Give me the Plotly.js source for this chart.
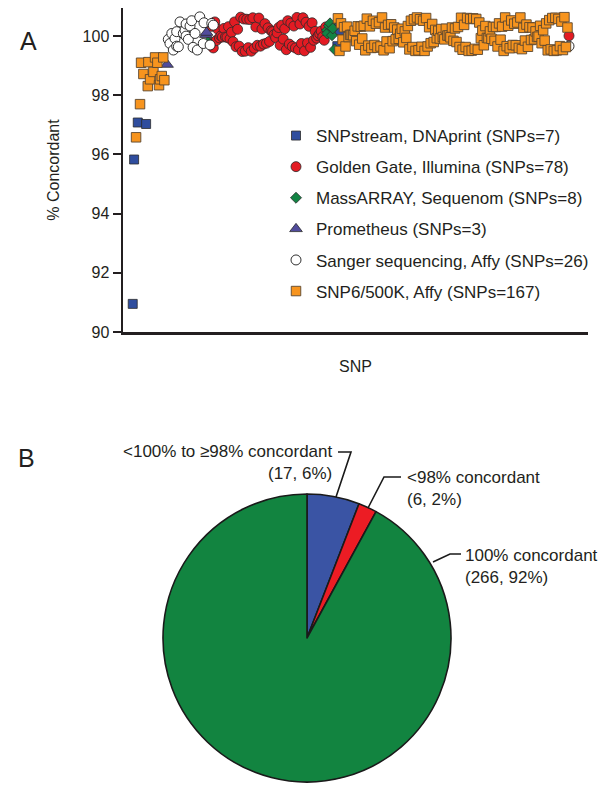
<!DOCTYPE html>
<html><head><meta charset="utf-8">
<script src="https://cdn.plot.ly/plotly-3.0.1.min.js"></script>
<style>html,body{margin:0;padding:0;background:#fff}#chart{width:601px;height:787px}</style>
</head><body><div id="chart"></div>
<script>
// ---------------- DATA ----------------
// Panel A: % concordance per SNP, x = SNP rank along the axis
const snpstreamRank = [1, 1.9, 4.3, 9.8, 135.6, 136.9, 137.4];
const snpstreamConc = [90.95, 95.83, 97.08, 97.03, 99.66, 100.37, 100.20];

const goldenGateFirstRank = 52;
const goldenGateEndRank = 288;
const goldenGateConc = [99.77, 100.33, 99.60, 100.48, 99.85, 100.23, 99.94, 100.01, 99.97, 100.26,
  99.97, 99.96, 100.32, 99.91, 100.13, 99.81, 100.48, 99.64, 100.23, 99.66,
  100.64, 99.48, 100.58, 99.49, 100.57, 99.61, 100.56, 99.49, 100.62, 99.59,
  100.31, 99.69, 100.61, 99.66, 100.24, 99.73, 100.42, 99.76, 100.28, 99.82,
  100.18, 100.15, 100.05, 99.95, 100.11, 100.29, 99.69, 100.37, 99.90, 100.25,
  99.54, 100.52, 99.73, 100.44, 99.65, 100.34, 99.60, 100.63, 99.54, 100.41,
  99.75, 100.62, 99.50, 100.47, 99.77, 100.33, 99.62, 100.45, 99.86, 100.16,
  99.93, 100.01, 100.08, 100.17, 99.98, 99.86, 100.31];
const goldenGateEndConc = 100.01;

const massArrayRank = [50.5, 128.8, 129.0, 130.1, 130.8, 132.1, 132.6, 133.8];
const massArrayConc = [99.80, 100.20, 100.09, 100.35, 100.43, 100.03, 100.26, 99.55];

const prometheusRank = [23.6, 49.2, 49.6];
const prometheusConc = [99.04, 100.05, 100.12];

const sangerRank = [24.4, 25.5, 26.7, 27.7, 28.8, 29.9, 29.9, 31.0, 32.1, 34.3, 35.4, 36.1, 36.1,
  37.6, 38.7, 39.8, 40.7, 42.0, 43.5, 45.1, 47.4, 47.9, 51.9, 53.0, 54.0, 288];
const sangerConc = [99.89, 99.75, 100.09, 99.53, 99.92, 100.15, 99.66, 99.64, 100.48, 100.09, 100.20, 100.41, 100.00,
  99.89, 100.34, 100.52, 99.62, 100.09, 99.53, 100.65, 99.75, 100.45, 99.70, 100.43, 100.37, 99.66];

const snp6LowRank = [3.2, 5.8, 6.5, 8.0, 10.9, 11.3, 12.4, 14.6, 15.7, 17.2, 18.3, 19.0, 20.1, 21.1, 21.8];
const snp6LowConc = [96.58, 97.70, 99.10, 98.72, 98.31, 99.12, 98.54, 98.79, 99.28, 99.10, 98.34, 98.54, 98.65, 99.28, 98.51];
const snp6BandFirstRank = 136;
const snp6BandConc = [
  100.60, 99.50, 100.43, 99.88, 100.30, 99.65, 100.32, 99.97, 100.04, 100.04,
  100.03, 100.18, 99.83, 100.33, 99.71, 100.32, 99.92, 100.35, 99.52, 100.59,
  99.68, 100.33, 99.60, 100.52, 99.70, 100.42, 99.61, 100.47, 99.65, 100.63,
  99.52, 100.29, 99.82, 100.38, 99.59, 100.40, 99.83, 100.29, 99.89, 100.22,
  99.91, 100.08, 100.25, 99.79, 100.16, 99.94, 100.34, 99.55, 100.52, 99.63,
  100.57, 99.50, 100.63, 99.52, 100.57, 99.64, 100.52, 99.50, 100.61, 99.65,
  100.30, 99.76, 100.41, 99.80, 100.21, 99.93, 100.18, 99.92, 100.24, 99.97,
  99.89, 100.25, 100.02, 100.02, 99.96, 100.29, 99.84, 100.26, 99.80, 100.31,
  99.63, 100.62, 99.54, 100.38, 99.63, 100.61, 99.50, 100.58, 99.51, 100.60,
  99.57, 100.58, 99.54, 100.46, 99.93, 100.19, 99.69, 100.34, 99.94, 99.93,
  100.16, 99.91, 100.31, 99.84, 100.31, 99.65, 100.43, 99.88, 100.32, 99.50,
  100.63, 99.66, 100.35, 99.59, 100.53, 99.70, 100.42, 99.69, 100.46, 99.60,
  100.63, 99.56, 100.28, 99.85, 100.39, 99.64, 100.30, 99.87, 100.29, 99.89,
  100.16, 99.97, 99.98, 100.35, 99.76, 100.20, 99.85, 100.43, 99.52, 100.54,
  99.55, 100.61, 99.50, 100.62, 99.52, 100.58, 99.66, 100.49, 99.53, 100.64,
  99.63, 100.29];

const seriesNames = [
  'SNPstream, DNAprint (SNPs=7)',
  'Golden Gate, Illumina (SNPs=78)',
  'MassARRAY, Sequenom (SNPs=8)',
  'Prometheus (SNPs=3)',
  'Sanger sequencing, Affy (SNPs=26)',
  'SNP6/500K, Affy (SNPs=167)'
];
const yTicks = [90, 92, 94, 96, 98, 100];

// Panel B: concordance categories
const pieLabels = ['<100% to ≥98% concordant', '<98% concordant', '100% concordant'];
const pieCounts = [17, 6, 266];
const piePercents = ['6%', '2%', '92%'];

// ---------------- BUILD ----------------
function ranksFrom(start, n) { const r = []; for (let i = 0; i < n; i++) r.push(start + i); return r; }

const W = 601, H = 787;
const px = x => x / W;
const py = y => 1 - y / H;

const FONT = 'Liberation Sans, Arial, Helvetica, sans-serif';
const INK = '#231f20';
const edge = { color: '#2b2b2b', width: 0.8 };

const goldenRank = ranksFrom(goldenGateFirstRank, goldenGateConc.length).concat([goldenGateEndRank]);
const goldenConc = goldenGateConc.concat([goldenGateEndConc]);
const snp6Rank = snp6LowRank.concat(ranksFrom(snp6BandFirstRank, snp6BandConc.length));
const snp6Conc = snp6LowConc.concat(snp6BandConc);

function sc(name, x, y, marker, i) {
  return { type: 'scatter', mode: 'markers', name: name, x: x, y: y, marker: marker,
    legendgroup: 'g' + i, xaxis: 'x', yaxis: 'y', hoverinfo: 'x+y' };
}

const traces = [
  sc(seriesNames[0], snpstreamRank, snpstreamConc, { symbol: 'square', size: 9, color: '#2f4d9e', line: edge }, 0),
  sc(seriesNames[1], goldenRank, goldenConc, { symbol: 'circle', size: 10, color: '#e31b23', line: edge }, 1),
  sc(seriesNames[2], massArrayRank, massArrayConc, { symbol: 'diamond', size: 8.5, color: '#128444', line: edge }, 2),
  sc(seriesNames[3], prometheusRank, prometheusConc, { symbol: 'triangle-up', size: 11, color: '#514c9c', line: edge }, 3),
  sc(seriesNames[4], sangerRank, sangerConc, { symbol: 'circle', size: 10, color: '#ffffff', line: { color: '#1a1a1a', width: 0.9 } }, 4),
  sc(seriesNames[5], snp6Rank, snp6Conc, { symbol: 'square', size: 9.5, color: '#f7941e', line: { color: '#5a4630', width: 0.9 } }, 5),
  {
    type: 'pie', labels: pieLabels, values: pieCounts, sort: false, direction: 'clockwise', rotation: 0,
    marker: { colors: ['#3a54a4', '#ec1c24', '#128440'], line: { color: '#1a1a1a', width: 1.6 } },
    textinfo: 'none', showlegend: false, hoverinfo: 'label+value+percent',
    domain: { x: [px(163), px(451)], y: [py(782), py(494)] }
  }
];

const annFont = { family: FONT, size: 17, color: INK };
const layout = {
  width: W, height: H, margin: { l: 0, r: 0, t: 0, b: 0 },
  paper_bgcolor: '#fff', plot_bgcolor: '#fff',
  font: { family: FONT, color: INK, size: 16 },
  xaxis: {
    domain: [px(123), px(588)], range: [-5.4, 300.5], anchor: 'y',
    showline: true, linecolor: INK, linewidth: 2.5, showgrid: false, zeroline: false,
    ticks: '', showticklabels: false,
    title: { text: 'SNP', font: { family: FONT, size: 16, color: INK }, standoff: 28 }
  },
  yaxis: {
    domain: [py(332), py(8)], range: [90, 100.95], anchor: 'x',
    showline: true, linecolor: INK, linewidth: 2.5, showgrid: false, zeroline: false,
    tickvals: yTicks, ticktext: yTicks.map(String), ticks: 'outside', ticklen: 8, tickwidth: 2, tickcolor: INK,
    tickfont: { family: FONT, size: 16, color: INK },
    title: { text: '% Concordant', font: { family: FONT, size: 16, color: INK }, standoff: 19 }
  },
  showlegend: true,
  legend: {
    x: px(276), xanchor: 'left', y: py(118), yanchor: 'top',
    font: { family: FONT, size: 17, color: INK }, bgcolor: 'rgba(0,0,0,0)',
    traceorder: 'grouped', tracegroupgap: 6, itemsizing: 'trace'
  },
  annotations: [
    { text: 'A', x: px(18), y: py(25), xref: 'paper', yref: 'paper', showarrow: false,
      font: { family: FONT, size: 25, color: INK } },
    { text: 'B', x: px(16), y: py(458), xref: 'paper', yref: 'paper', showarrow: false,
      font: { family: FONT, size: 25, color: INK } },
    { text: '&lt;100% to ≥98% concordant<br>(' + pieCounts[0] + ', ' + piePercents[0] + ')',
      x: px(334), y: py(462.5), xref: 'paper', yref: 'paper', xanchor: 'right', yanchor: 'middle',
      align: 'right', showarrow: false, font: annFont },
    { text: '&lt;98% concordant<br>(' + pieCounts[1] + ', ' + piePercents[1] + ')',
      x: px(405), y: py(488), xref: 'paper', yref: 'paper', xanchor: 'left', yanchor: 'middle',
      align: 'left', showarrow: false, font: annFont },
    { text: '100% concordant<br>(' + pieCounts[2] + ', ' + piePercents[2] + ')',
      x: px(463), y: py(566), xref: 'paper', yref: 'paper', xanchor: 'left', yanchor: 'middle',
      align: 'left', showarrow: false, font: annFont }
  ],
  shapes: [
    { type: 'path', xref: 'paper', yref: 'paper', line: { color: '#1a1a1a', width: 1.6 },
      path: `M ${px(338)} ${py(452)} L ${px(351)} ${py(452)} L ${px(336)} ${py(497)}` },
    { type: 'path', xref: 'paper', yref: 'paper', line: { color: '#1a1a1a', width: 1.6 },
      path: `M ${px(401)} ${py(477)} L ${px(384)} ${py(477)} L ${px(368)} ${py(508)}` },
    { type: 'path', xref: 'paper', yref: 'paper', line: { color: '#1a1a1a', width: 1.6 },
      path: `M ${px(461)} ${py(554)} L ${px(450)} ${py(554)} L ${px(433)} ${py(562)}` }
  ]
};

Plotly.newPlot('chart', traces, layout, { staticPlot: true, displayModeBar: false });
</script></body></html>
